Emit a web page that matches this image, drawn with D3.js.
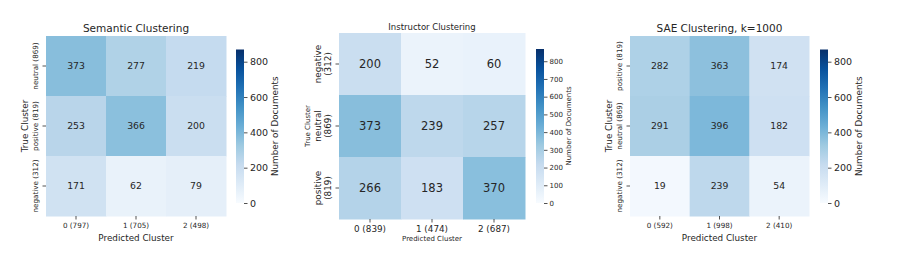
<!DOCTYPE html>
<html>
<head>
<meta charset="utf-8">
<script src="https://cdn.jsdelivr.net/npm/d3@7"></script>
<style>
  body { margin: 0; background: #fff; }
  svg text { font-family: "DejaVu Sans", sans-serif; fill: #262626; }
</style>
</head>
<body>
<svg id="chart" width="897" height="266"></svg>
<script>
// data
var titles = ["Semantic Clustering", "Instructor Clustering", "SAE Clustering, k=1000"];
var rowLabels = [
  ["neutral (869)", "positive (819)", "negative (312)"],
  ["negative\n(312)", "neutral\n(869)", "positive\n(819)"],
  ["positive (819)", "neutral (869)", "negative (312)"]
];
var colLabels = [
  ["0 (797)", "1 (705)", "2 (498)"],
  ["0 (839)", "1 (474)", "2 (687)"],
  ["0 (592)", "1 (998)", "2 (410)"]
];
var semanticValues = [[373, 277, 219], [253, 366, 200], [171, 62, 79]];
var instructorValues = [[200, 52, 60], [373, 239, 257], [266, 183, 370]];
var saeValues = [[282, 363, 174], [291, 396, 182], [19, 239, 54]];
var colorbarTicks = [
  [0, 200, 400, 600, 800],
  [0, 100, 200, 300, 400, 500, 600, 700, 800],
  [0, 200, 400, 600, 800]
];
var vmax = 869;
var blues = ["#f7fbff","#deebf7","#c6dbef","#9ecae1","#6baed6","#4292c6","#2171b5","#08519c","#08306b"];

var matrices = [semanticValues, instructorValues, saeValues];

// layout per panel
var panels = [
  { x: 46, y: 36, w: 180, h: 180, cbx: 236, cby: 49.5, cbh: 153.5,
    titleY: 32, titleSize: 10.5, cellSize: 9.3, tickSize: 7.2, labelSize: 8.8,
    cbTickSize: 9.5, cbPad: 2.5, cbLabelSize: 8.8, rowOff: 11, yLabelX: 25, xTickY: 227.5, xLabelY: 241, cbLabelX: 275 },
  { x: 339, y: 33, w: 186, h: 186, cbx: 536, cby: 49, cbh: 154,
    titleY: 29.5, titleSize: 8.5, cellSize: 11.5, tickSize: 8.8, labelSize: 7,
    cbTickSize: 7, cbPad: 2, cbLabelSize: 7, rowOff: 16, yLabelX: 308, xTickY: 231.5, xLabelY: 240.5, cbLabelX: 569 },
  { x: 630, y: 36, w: 179, h: 180, cbx: 820, cby: 49.5, cbh: 153.5,
    titleY: 32, titleSize: 10.5, cellSize: 9.3, tickSize: 7.2, labelSize: 8.8,
    cbTickSize: 9.5, cbPad: 2.5, cbLabelSize: 8.8, rowOff: 10.5, yLabelX: 609, xTickY: 227.5, xLabelY: 241, cbLabelX: 859 }
];

var svg = d3.select("#chart");
var color = d3.scaleLinear()
  .domain(blues.map(function(c, i) { return i / (blues.length - 1) * vmax; }))
  .range(blues);

var defs = svg.append("defs");
var grad = defs.append("linearGradient")
  .attr("id", "bluesGrad")
  .attr("x1", 0).attr("y1", 1).attr("x2", 0).attr("y2", 0);
blues.forEach(function(c, i) {
  grad.append("stop").attr("offset", i / (blues.length - 1)).attr("stop-color", c);
});

panels.forEach(function(p, k) {
  var data = matrices[k];
  var g = svg.append("g").attr("transform", "translate(" + p.x + "," + p.y + ")");
  var x = d3.scaleBand().domain(d3.range(3)).range([0, p.w]);
  var y = d3.scaleBand().domain(d3.range(3)).range([0, p.h]);

  // cells
  var cells = [];
  data.forEach(function(row, i) {
    row.forEach(function(v, j) { cells.push({ r: i, c: j, v: v }); });
  });
  g.selectAll("rect.cell").data(cells).enter().append("rect")
    .attr("class", "cell")
    .attr("x", function(d) { return x(d.c); })
    .attr("y", function(d) { return y(d.r); })
    .attr("width", x.bandwidth() + 0.5)
    .attr("height", y.bandwidth() + 0.5)
    .attr("fill", function(d) { return color(d.v); });
  g.selectAll("text.val").data(cells).enter().append("text")
    .attr("class", "val")
    .attr("x", function(d) { return x(d.c) + x.bandwidth() / 2; })
    .attr("y", function(d) { return y(d.r) + y.bandwidth() / 2; })
    .attr("dy", "0.36em")
    .attr("text-anchor", "middle")
    .style("font-size", p.cellSize + "px")
    .text(function(d) { return d.v; });

  // x axis
  var xa = g.append("g").attr("transform", "translate(0," + p.h + ")")
    .call(d3.axisBottom(x).tickSize(3.5).tickFormat(function(d) { return colLabels[k][d]; }));
  xa.select(".domain").remove();
  xa.selectAll(".tick line").attr("stroke", "#262626").attr("stroke-width", 0.8);
  xa.selectAll("text").attr("y", p.xTickY - p.y - p.h).attr("dy", 0)
    .style("font-size", p.tickSize + "px").attr("fill", "#262626");

  // y axis, rotated labels
  var ya = g.append("g")
    .call(d3.axisLeft(y).tickSize(3.5).tickFormat(""));
  ya.select(".domain").remove();
  ya.selectAll(".tick line").attr("stroke", "#262626").attr("stroke-width", 0.8);
  ya.selectAll(".tick").each(function(d) {
    var lines = rowLabels[k][d].split("\n");
    var t = d3.select(this).select("text")
      .attr("transform", "rotate(-90)")
      .attr("text-anchor", "middle")
      .attr("x", 0).attr("dy", null)
      .style("font-size", p.tickSize + "px").attr("fill", "#262626");
    if (lines.length == 1) {
      t.attr("y", -p.rowOff).attr("dy", "0.35em").text(lines[0]);
    } else {
      t.attr("y", null);
      lines.forEach(function(s, i) {
        t.append("tspan").attr("x", 0)
          .attr("y", -p.rowOff - 5 + i * 10)
          .attr("dy", "0.35em").text(s);
      });
    }
  });

  // title and axis labels
  svg.append("text")
    .attr("x", p.x + p.w / 2).attr("y", p.titleY)
    .attr("text-anchor", "middle")
    .style("font-size", p.titleSize + "px")
    .text(titles[k]);
  svg.append("text")
    .attr("x", p.x + p.w / 2).attr("y", p.xLabelY)
    .attr("text-anchor", "middle")
    .style("font-size", p.labelSize + "px")
    .text("Predicted Cluster");
  svg.append("text")
    .attr("transform", "translate(" + p.yLabelX + "," + (p.y + p.h / 2) + ") rotate(-90)")
    .attr("text-anchor", "middle").attr("dy", "0.35em")
    .style("font-size", p.labelSize + "px")
    .text("True Cluster");

  // colorbar
  var cb = svg.append("g").attr("transform", "translate(" + p.cbx + "," + p.cby + ")");
  cb.append("rect").attr("width", 8).attr("height", p.cbh).attr("fill", "url(#bluesGrad)");
  var cs = d3.scaleLinear().domain([0, vmax]).range([p.cbh, 0]);
  var ca = cb.append("g").attr("transform", "translate(8,0)")
    .call(d3.axisRight(cs).tickValues(colorbarTicks[k]).tickSize(3.5).tickPadding(p.cbPad));
  ca.select(".domain").remove();
  ca.selectAll(".tick line").attr("stroke", "#262626").attr("stroke-width", 0.8);
  ca.selectAll("text").style("font-size", p.cbTickSize + "px").attr("fill", "#262626");
  svg.append("text")
    .attr("transform", "translate(" + p.cbLabelX + "," + (p.cby + p.cbh / 2) + ") rotate(-90)")
    .attr("text-anchor", "middle").attr("dy", "0.35em")
    .style("font-size", p.cbLabelSize + "px")
    .text("Number of Documents");
});
</script>
</body>
</html>
